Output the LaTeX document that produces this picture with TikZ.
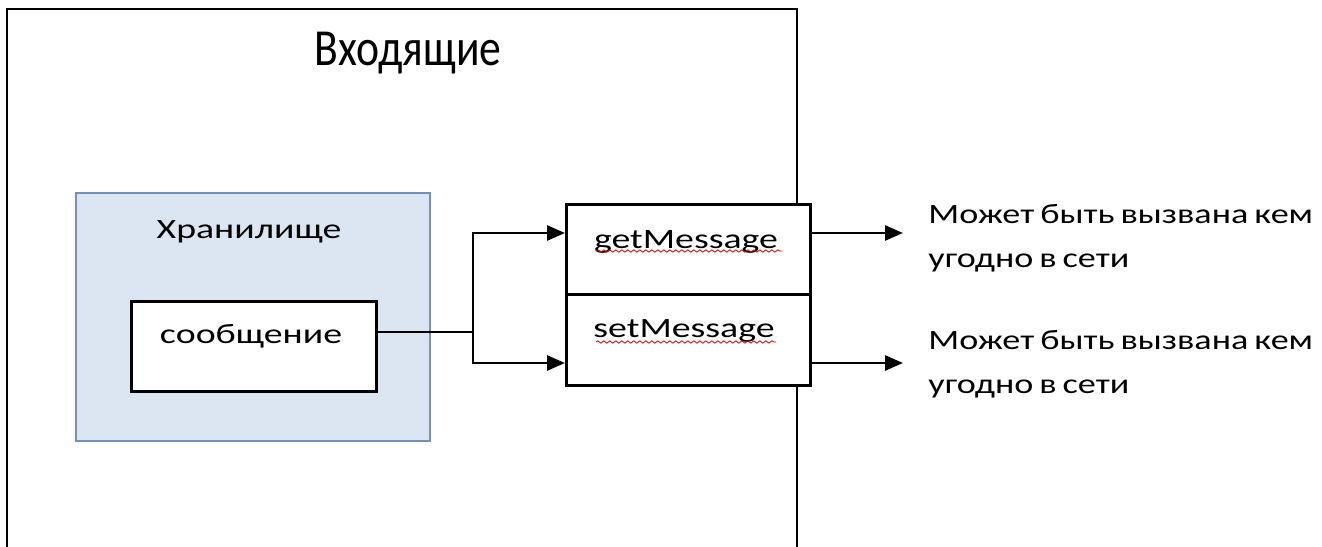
\documentclass[tikz,border=0pt]{standalone}
\usepackage{fontspec}
\setmainfont{Carlito}
\newfontfamily\widefont[FakeStretch=1.35]{Carlito}
\newfontfamily\notefont[FakeStretch=1.29]{Carlito}
\newfontfamily\narrowfont[FakeStretch=0.84]{Carlito}
\newcommand\tightspacing{\spaceskip=3pt\relax}
\usetikzlibrary{arrows.meta,decorations.pathmorphing}
\definecolor{storefill}{HTML}{DCE6F2}
\definecolor{storeline}{HTML}{7290B8}
\tikzset{
  box/.style={draw=black, line width=1.3pt, fill=white, inner sep=0pt, anchor=north west},
  lbl/.style={font=\widefont\fontsize{14}{21.5}\selectfont, inner sep=0pt},
  note/.style={font={\notefont\fontsize{14}{22}\selectfont\tightspacing}, inner sep=0pt, align=left, anchor=base west},
  conn/.style={draw=black, line width=1.3pt},
  arr/.style={conn, -{Triangle[length=9pt,width=7.5pt]}},
  squiggle/.style={draw=red!85!black, line width=0.4pt, decorate, decoration={snake, amplitude=0.6pt, segment length=3pt}}
}
\begin{document}
\begin{tikzpicture}[x=0.5pt,y=-0.5pt]
\useasboundingbox (0,0) rectangle (1322,546);
% outer container (runs off the bottom)
\draw[line width=1.3pt] (7,560) -- (7,9) -- (797,9) -- (797,560);
\node[inner sep=0pt, anchor=base, font=\narrowfont\fontsize{26}{30}\selectfont] (inbox) at (408,65) {Входящие};
% storage
\node[draw=storeline, line width=1pt, fill=storefill, minimum width=177pt, minimum height=124pt, anchor=north west, inner sep=0pt] (store) at (75,192) {};
\node[lbl, anchor=base] (storelbl) at (249,238) {Хранилище};
\node[box, minimum width=122.5pt, minimum height=45pt] (msg) at (130,300) {};
\node[lbl, anchor=base] (msglbl) at (251,343) {сообщение};
% methods
\node[box, minimum width=122pt, minimum height=45pt] (get) at (565,203) {};
\node[box, minimum width=122pt, minimum height=45.5pt] (set) at (565,293) {};
\node[lbl, anchor=base] (getlbl) at (686,248) {getMessage};
\node[lbl, anchor=base] (setlbl) at (684,337) {setMessage};
\draw[squiggle] (596,251) -- (782,251);
\draw[squiggle] (596,342) -- (776,342);
% connectors
\coordinate (split) at (473,332);
\draw[conn] (msg.east |- split) -- (split);
\draw[arr] (split) |- (get.west |- 0,233);
\draw[arr] (split) |- (set.west |- 0,363);
% outputs
\node[note] (out1) at (928,267) {Может быть вызвана кем\\угодно в сети};
\node[note] (out2) at (928,393) {Может быть вызвана кем\\угодно в сети};
\coordinate (e1) at (903,233);
\coordinate (e2) at (903,363);
\draw[arr] (get.east |- e1) -- (e1);
\draw[arr] (set.east |- e2) -- (e2);
\end{tikzpicture}
\end{document}
